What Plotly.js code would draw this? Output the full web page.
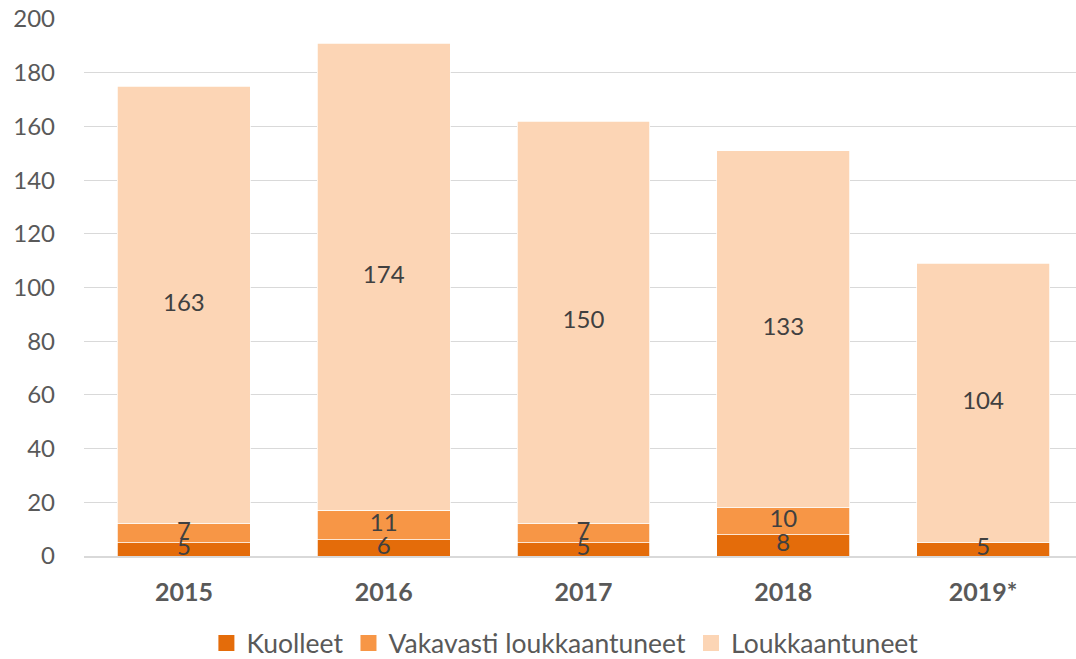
<!DOCTYPE html>
<html><head><meta charset="utf-8">
<script src="https://cdn.plot.ly/plotly-3.0.1.min.js"></script>
<style>html,body{margin:0;padding:0;background:#fff}#chart{width:1076px;height:659px}</style>
</head><body><div id="chart"></div>
<script>
const years = ['2015', '2016', '2017', '2018', '2019*'];
const kuolleet = [5, 6, 5, 8, 5];
const vakavasti = [7, 11, 7, 10, 0];
const loukkaantuneet = [163, 174, 150, 133, 104];
const seriesNames = ['Kuolleet', 'Vakavasti loukkaantuneet', 'Loukkaantuneet'];
const colors = ['#E46C0A', '#F79646', '#FCD5B5'];
const yTicks = [0, 20, 40, 60, 80, 100, 120, 140, 160, 180, 200];

const FONT = 'Lato, "Open Sans", sans-serif';
const all = [kuolleet, vakavasti, loukkaantuneet];

// stacked bars
const barTraces = all.map((vals, i) => ({
  type: 'bar',
  name: seriesNames[i],
  x: years,
  y: vals,
  showlegend: false,
  marker: {color: colors[i], line: {color: '#ffffff', width: 0.75}},
  hoverinfo: 'x+y+name'
}));

// data labels drawn above all bars, at each segment's middle
const base = years.map(() => 0);
const labelTraces = all.map((vals, i) => {
  const mids = vals.map((v, j) => base[j] + v / 2);
  vals.forEach((v, j) => { base[j] += v; });
  return {
    type: 'scatter', mode: 'text',
    x: years, y: mids,
    text: vals.map(v => v > 0 ? String(v) : ''),
    textposition: 'middle center',
    textfont: {family: FONT, size: 24, color: '#404040'},
    cliponaxis: false,
    showlegend: false, hoverinfo: 'skip'
  };
});

// legend entries
const legendTraces = seriesNames.map((n, i) => ({
  type: 'scatter', mode: 'markers', name: n,
  x: [null], y: [null],
  marker: {symbol: 'square', size: 16, color: colors[i]},
  showlegend: true
}));

const layout = {
  width: 1076, height: 659,
  margin: {l: 83.5, r: 0, t: 19, b: 103, autoexpand: false},
  barmode: 'stack',
  bargap: 0.335,
  paper_bgcolor: '#fff', plot_bgcolor: '#fff',
  font: {family: FONT, color: '#595959', size: 22},
  xaxis: {
    type: 'category',
    range: [-0.5, 4.465],
    showgrid: false,
    showline: true, linecolor: '#D9D9D9', linewidth: 1.5,
    ticks: '',
    ticklabelstandoff: 13,
    tickfont: {family: FONT, size: 25, color: '#595959', weight: 'bold'}
  },
  yaxis: {
    range: [0, 200],
    tickvals: yTicks,
    showgrid: true, gridcolor: '#D9D9D9', gridwidth: 1,
    zeroline: false,
    showline: false,
    ticks: '',
    ticklabelstandoff: 28,
    tickfont: {family: FONT, size: 24, color: '#595959'}
  },
  legend: {
    orientation: 'h', x: 0.525, xref: 'container', xanchor: 'center',
    y: 0.024, yref: 'container', yanchor: 'middle',
    font: {family: FONT, size: 26.5, color: '#595959'},
    itemwidth: 30, traceorder: 'normal'
  },
  showlegend: true
};

Plotly.newPlot('chart', [...barTraces, ...labelTraces, ...legendTraces], layout, {displayModeBar: false, staticPlot: true});
</script>
</body></html>
